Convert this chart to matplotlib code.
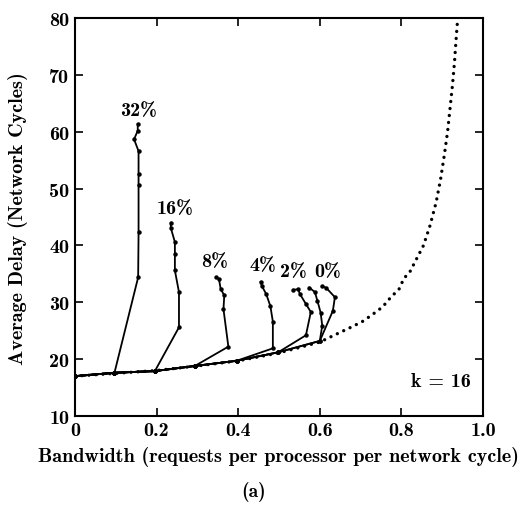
import matplotlib
matplotlib.use("Agg")
import matplotlib.pyplot as plt

plt.rcParams['font.family'] = ['cmb10', 'DejaVu Serif']
plt.rcParams['axes.unicode_minus'] = False

# dotted curve (no hot spot, analytic)
ideal_x = [0, 0.1, 0.2, 0.3, 0.4, 0.5, 0.6, 0.632, 0.676, 0.704, 0.730, 0.754,
           0.774, 0.794, 0.806, 0.821, 0.836, 0.854, 0.870, 0.885, 0.896,
           0.905, 0.913, 0.919, 0.925, 0.930, 0.934, 0.938]
ideal_y = [17.0, 17.5, 18.0, 18.8, 19.7, 21.1, 23.0, 24.1, 25.6, 26.6, 27.9, 29.2,
           30.9, 32.3, 34.2, 35.4, 37.5, 40.0, 43.5, 47.6, 51.7,
           55.9, 60.0, 64.1, 68.2, 72.3, 76.4, 80.1]

# shared part along the bottom
base_x = [0, 0.097, 0.196, 0.294, 0.396, 0.498, 0.600]
base_y = [17.0, 17.6, 17.9, 18.8, 19.7, 21.2, 23.2]

labels = ['32%', '16%', '8%', '4%', '2%', '', '0%']
branch = [1, 2, 3, 4, 5, 6, 6]  # index in base_x where each curve leaves
curve_x = [
    [0.155, 0.156, 0.156, 0.156, 0.156, 0.145, 0.154, 0.154],
    [0.255, 0.255, 0.245, 0.245, 0.245, 0.235, 0.235],
    [0.376, 0.364, 0.366, 0.357, 0.353, 0.346],
    [0.485, 0.485, 0.479, 0.469, 0.458, 0.455],
    [0.566, 0.578, 0.566, 0.551, 0.547, 0.535],
    [0.606, 0.602, 0.594, 0.588, 0.574],
    [0.632, 0.637, 0.615, 0.605],
]
curve_y = [
    [34.4, 42.3, 50.7, 52.6, 56.6, 58.7, 60.2, 61.4],
    [25.6, 31.8, 35.6, 38.5, 40.6, 43.1, 44.0],
    [22.2, 28.8, 31.2, 32.4, 34.1, 34.4],
    [21.9, 26.6, 29.3, 31.4, 32.9, 33.6],
    [24.2, 28.3, 29.7, 31.5, 32.3, 32.2],
    [25.9, 28.2, 30.3, 31.8, 32.6],
    [28.5, 30.9, 32.6, 32.8],
]
label_pos = [(0.155, 62.3), (0.245, 45.0), (0.343, 35.6), (0.460, 35.0),
             (0.535, 33.9), None, (0.618, 33.9)]

fig = plt.figure(figsize=(5.2, 5.06), dpi=100)
ax = fig.add_axes([0.144, 0.176, 0.785, 0.786])

ax.plot(ideal_x, ideal_y, color='black', linewidth=2.4,
        dashes=(0.01, 2.1), dash_capstyle='round')

for i in range(len(curve_x)):
    b = branch[i]
    xs = base_x[:b + 1] + curve_x[i]
    ys = base_y[:b + 1] + curve_y[i]
    ax.plot(xs, ys, color='black', linewidth=1.3, marker='o', markersize=2.2)
    if label_pos[i] is not None:
        ax.text(label_pos[i][0], label_pos[i][1], labels[i], ha='center',
                va='bottom', fontsize=14.5)

ax.text(0.97, 0.065, 'k = 16', transform=ax.transAxes, ha='right', va='bottom',
        fontsize=14.5)

ax.set_xlim(0, 1.0)
ax.set_ylim(10, 80)
ax.set_xticks([0, 0.2, 0.4, 0.6, 0.8, 1.0])
ax.set_xticklabels(['0', '0.2', '0.4', '0.6', '0.8', '1.0'])
ax.set_yticks([10, 20, 30, 40, 50, 60, 70, 80])
ax.tick_params(direction='in', length=6, width=1.2, top=True, right=True,
               labelsize=14.5, pad=4)
for s in ax.spines.values():
    s.set_linewidth(1.5)

ax.set_xlabel('Bandwidth (requests per processor per network cycle)',
              fontsize=14.5, labelpad=5)
ax.set_ylabel('Average Delay (Network Cycles)', fontsize=14.5, labelpad=15)
fig.text(0.488, 0.028, '(a)', ha='center', va='center', fontsize=14)

fig.savefig('out.png', dpi=100)
